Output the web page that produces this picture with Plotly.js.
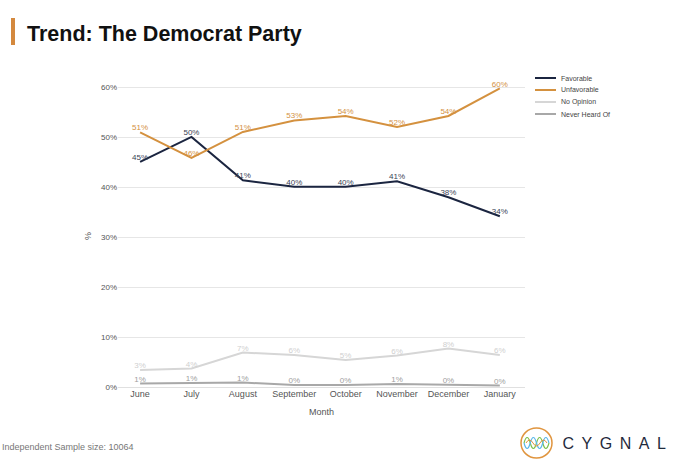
<!DOCTYPE html>
<html>
<head>
<meta charset="utf-8">
<script src="https://cdn.plot.ly/plotly-3.0.1.min.js"></script>
<style>
html,body{margin:0;padding:0;background:#fff;}
#chart{width:680px;height:464px;}
g.annotation[data-index="1"] text{letter-spacing:7.5px;}
</style>
</head>
<body>
<div id="chart"></div>
<script>
const months = ["June","July","August","September","October","November","December","January"];
const favorable = [45.1, 50.1, 41.4, 40.1, 40.1, 41.2, 38.0, 34.2];
const unfavorable = [51.0, 45.9, 51.1, 53.4, 54.3, 52.1, 54.3, 59.8];
const noOpinion = [3.4, 3.7, 6.9, 6.4, 5.4, 6.3, 7.7, 6.4];
const neverHeard = [0.7, 0.8, 0.9, 0.4, 0.4, 0.6, 0.4, 0.3];
const seriesNames = ["Favorable","Unfavorable","No Opinion","Never Heard Of"];

const colors = ["#1b2540","#d4913f","#d6d6d6","#a8a8a8"];
const labelColors = ["#3a4356","#d4913f","#cfcfcf","#a0a0a0"];

// px -> paper helpers (plot area 118..525 x, 85..387 y)
const L=118,R=525,T=85,B=387;
const px=x=>(x-L)/(R-L), py=y=>(B-y)/(B-T);

const data = [favorable, unfavorable, noOpinion, neverHeard].map((vals,i)=>({
  x: months, y: vals, name: seriesNames[i], type:'scatter', mode:'lines+text',
  line:{color:colors[i], width:2},
  text: vals.map(v=>Math.round(v)+'%'), textposition:'top center',
  textfont:{family:'Liberation Sans, Arial, sans-serif', size:8, color:labelColors[i]},
  cliponaxis:false, hoverinfo:'skip', showlegend:false
}));

function wavePath(x0, x1, yc, amp, n, phase){
  const step=(x1-x0)/n; let d=`M ${px(x0)} ${py(yc)}`;
  for(let k=0;k<n;k++){
    const s=((k+phase)%2===0)?-1:1;
    const cx=x0+step*(k+0.5), ex=x0+step*(k+1);
    d+=` Q ${px(cx)} ${py(yc+s*amp)} ${px(ex)} ${py(yc)}`;
  }
  return d;
}

const shapes = [
  {type:'rect', xref:'paper', yref:'paper', x0:px(11), x1:px(15), y0:py(45), y1:py(18),
   fillcolor:'#d4893e', line:{width:0}},
  {type:'circle', xref:'paper', yref:'paper', x0:px(521), x1:px(552), y0:py(458), y1:py(428),
   line:{color:'#e0953f', width:1.5}},
  {type:'path', xref:'paper', yref:'paper', path:wavePath(524,549,443,11,4,0), line:{color:'#7cc04b', width:1.2}},
  {type:'path', xref:'paper', yref:'paper', path:wavePath(524,549,443,11,4,1), line:{color:'#59b7e8', width:1.2}},
  {type:'path', xref:'paper', yref:'paper', path:wavePath(526,547,443,6,3,0), line:{color:'#e0953f', width:1}}
];
const annotations = [
  {text:'Independent Sample size: 10064', xref:'paper', yref:'paper', x:px(0), y:py(447),
   xanchor:'left', yanchor:'middle', showarrow:false, font:{size:9, color:'#777'}},
  {text:'CYGNAL', xref:'paper', yref:'paper', x:px(618), y:py(443),
   xanchor:'center', yanchor:'middle', showarrow:false,
   font:{family:'Liberation Sans, Arial, sans-serif', size:16, color:'#1f2a3c'}}
];
// manual legend
const legY=[78,90,102,114];
seriesNames.forEach((n,i)=>{
  shapes.push({type:'line', xref:'paper', yref:'paper', x0:px(535), x1:px(556), y0:py(legY[i]), y1:py(legY[i]),
    line:{color:colors[i], width:2}});
  annotations.push({text:n, xref:'paper', yref:'paper', x:px(559), y:py(legY[i]), xanchor:'left', yanchor:'middle',
    showarrow:false, font:{size:7, color:'#444'}});
});

const layout = {
  width:680, height:464,
  margin:{l:L, r:680-R, t:T, b:464-B},
  paper_bgcolor:'#fff', plot_bgcolor:'#fff',
  font:{family:'Liberation Sans, Arial, sans-serif', color:'#555'},
  title:{text:'<b>Trend: The Democrat Party</b>', x:27/680, xanchor:'left', xref:'container',
         y:1-33/464, yanchor:'middle', yref:'container',
         font:{family:'Liberation Sans, Arial, sans-serif', size:21.5, color:'#111'}},
  xaxis:{type:'category', range:[-0.43, 7.49], showgrid:false, zeroline:false, showline:false,
         ticks:'', tickfont:{size:9, color:'#555'},
         title:{text:'Month', font:{size:9, color:'#555'}, standoff:10}},
  yaxis:{range:[0,60.5], dtick:10, ticksuffix:'%', showgrid:true, gridcolor:'#e6e6e6', gridwidth:1,
         zeroline:true, zerolinecolor:'#e0e0e0', showline:false, ticks:'',
         tickfont:{size:8, color:'#555'}, automargin:false,
         title:{text:'%', font:{size:9, color:'#555'}, standoff:7}},
  showlegend:false,
  shapes:shapes,
  annotations:annotations
};

Plotly.newPlot('chart', data, layout, {displayModeBar:false, staticPlot:true});
</script>
</body>
</html>
